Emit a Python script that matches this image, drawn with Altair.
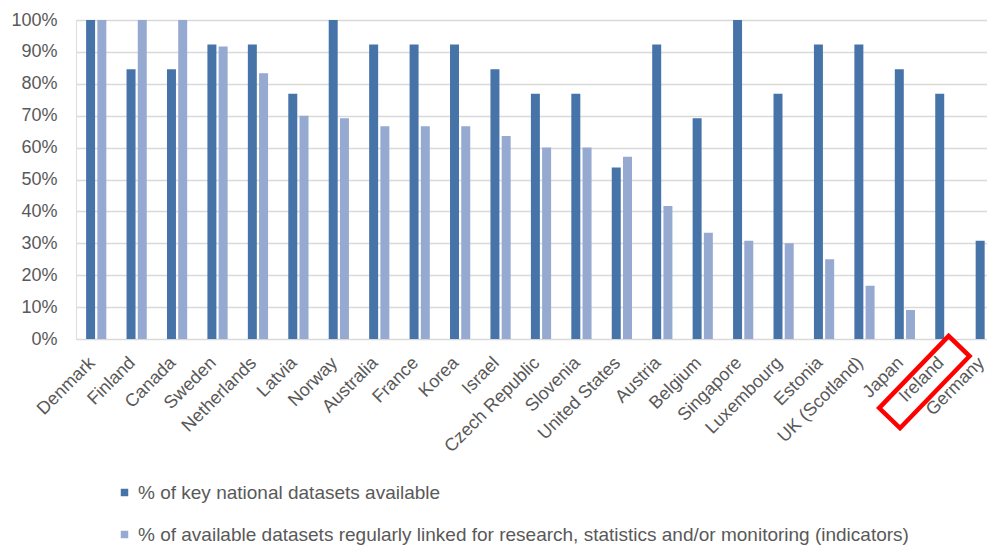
import altair as alt
import pandas as pd

countries = ["Denmark", "Finland", "Canada", "Sweden", "Netherlands", "Latvia", "Norway",
             "Australia", "France", "Korea", "Israel", "Czech Republic", "Slovenia",
             "United States", "Austria", "Belgium", "Singapore", "Luxembourg", "Estonia",
             "UK (Scotland)", "Japan", "Ireland", "Germany"]
available = [100, 84.6, 84.6, 92.3, 92.3, 76.9, 100, 92.3, 92.3, 92.3, 84.6, 76.9, 76.9,
             53.8, 92.3, 69.2, 100, 76.9, 92.3, 92.3, 84.6, 76.9, 30.8]
linked = [100, 100, 100, 91.7, 83.3, 70, 69.2, 66.7, 66.7, 66.7, 63.6, 60, 60,
          57.1, 41.7, 33.3, 30.8, 30, 25, 16.7, 9.1, 0, 0]
series_names = ["% of key national datasets available",
                "% of available datasets regularly linked for research, statistics and/or monitoring (indicators)"]
colors = ["#4673a8", "#95a9d1"]
y_ticks = [0, 0.1, 0.2, 0.3, 0.4, 0.5, 0.6, 0.7, 0.8, 0.9, 1.0]
highlight = ["Ireland"]

rows = []
for c, a, l in zip(countries, available, linked):
    rows.append({"country": c, "series": series_names[0], "value": a / 100})
    rows.append({"country": c, "series": series_names[1], "value": l / 100})
df = pd.DataFrame(rows)

W, H = 911, 319
FONT = "Liberation Sans"
GRAY = "#595959"

x_scale = alt.Scale(paddingInner=0.5, paddingOuter=0.25, range=[0, 930])
y_scale = alt.Scale(domain=[0, 1])
x_axis = alt.Axis(title=None, labelAngle=315, labelAlign="right",
                  labelBaseline="middle", labelFontSize=18, labelColor=GRAY,
                  labelFont=FONT, ticks=False, domain=False, labelPadding=21,
                  labelOffset=-4, grid=False, labelOverlap=False)
y_axis = alt.Axis(format=".0%", values=y_ticks, tickCount=12, title=None, ticks=False,
                  domain=False, gridColor="#d9d9d9", gridWidth=1.5,
                  labelPadding=19, labelFontSize=18, labelColor=GRAY,
                  labelFont=FONT, labelOverlap=False)

bars = alt.Chart(df).mark_bar().encode(
    x=alt.X("country:N", sort=countries, scale=x_scale, axis=x_axis),
    xOffset=alt.XOffset("series:N", sort=series_names, scale=alt.Scale(paddingInner=0.2)),
    y=alt.Y("value:Q", scale=y_scale, axis=y_axis),
    color=alt.Color("series:N", sort=series_names,
                    scale=alt.Scale(domain=series_names, range=colors),
                    legend=alt.Legend(title=None, orient="none", legendX=39, legendY=463,
                                      direction="vertical", symbolType="square",
                                      symbolSize=56, symbolStrokeWidth=0, labelOffset=4,
                                      labelFontSize=19, labelColor=GRAY, labelFont=FONT,
                                      rowPadding=22, labelLimit=0, padding=0)),
)

box_path = "M-1,-0.29L1,-0.29L1,0.29L-1,0.29Z"
box = alt.Chart(pd.DataFrame({"country": highlight})).mark_point(
    shape=box_path, size=10000, angle=314, filled=False, stroke="#ff0000",
    strokeWidth=4.5, xOffset=-21, opacity=1
).encode(
    x=alt.X("country:N", sort=countries, scale=x_scale, axis=x_axis),
    y=alt.Y(datum=-0.135, scale=y_scale, axis=y_axis),
)

chart = alt.layer(bars, box).properties(
    width=W, height=H,
    autosize=alt.AutoSizeParams(type="none"),
    padding={"left": 68, "top": 12, "right": 0, "bottom": 206},
).configure_view(stroke=None).configure(background="white")

chart.save("out.html", embed_options={"renderer": "svg", "actions": False})
